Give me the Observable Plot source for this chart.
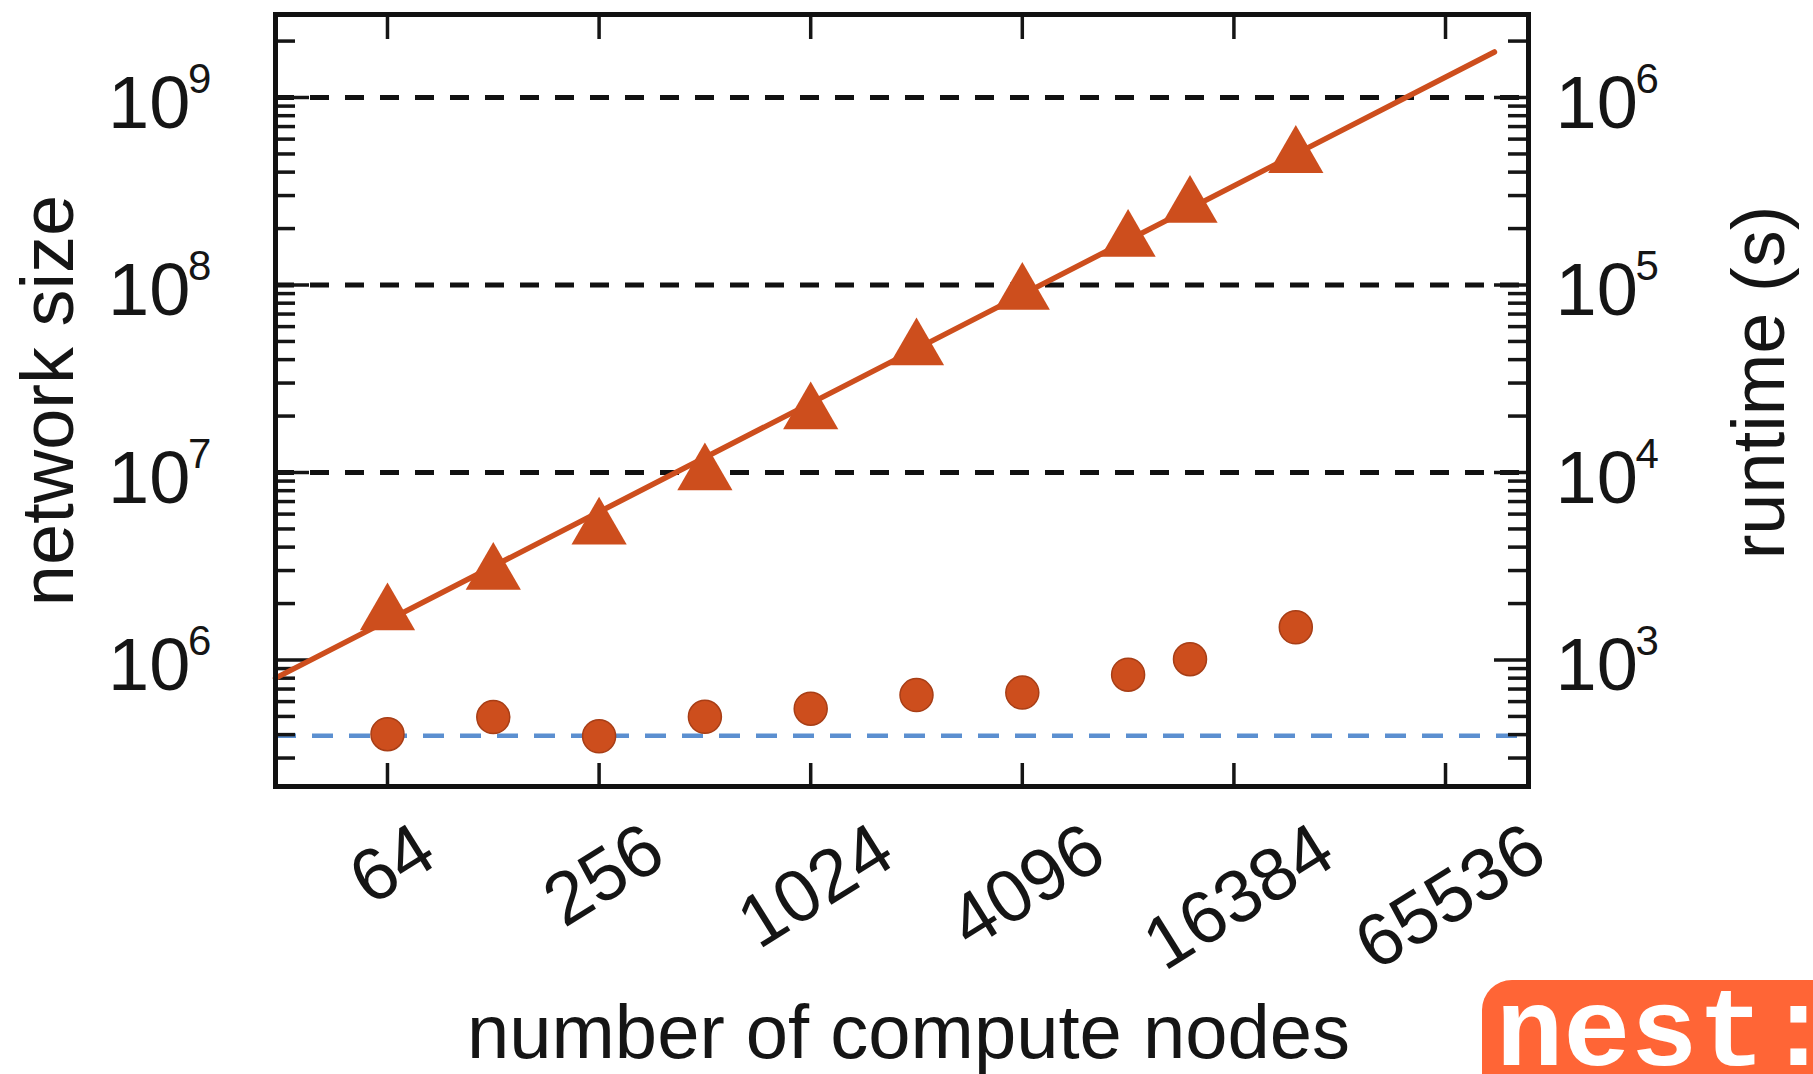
<!DOCTYPE html>
<html>
<head>
<meta charset="utf-8">
<script src="https://cdn.jsdelivr.net/npm/d3@7"></script>
<script src="https://cdn.jsdelivr.net/npm/@observablehq/plot@0.6"></script>
<style>
  html, body { margin: 0; padding: 0; background: #fff; overflow: hidden; }
  #wrap { position: relative; width: 1813px; height: 1074px; overflow: hidden; }
  #chart svg { display: block; }
  #logo { position: absolute; left: 1482px; top: 980px; width: 331px; height: 94px;
          background: #FF6536; border-radius: 30px 0 0 0; overflow: hidden; }
  #logo span.t { position: absolute; left: 14px; top: 21px; font-family: "Liberation Mono", "DejaVu Sans Mono", monospace;
          font-weight: bold; font-size: 112px; line-height: 70px; color: #fff; white-space: nowrap; }
  #logo span.c { letter-spacing: -22px; }
</style>
</head>
<body>
<div id="wrap">
  <div id="chart"></div>
  <div id="logo"><span class="t">nest<span class="c">:</span></span></div>
</div>
<script>
// ---- data ----
const nodes = [64, 128, 256, 512, 1024, 2048, 4096, 8192, 12288, 24576];
const networkSize = [1.75e6, 2.88e6, 5.02e6, 9.77e6, 2.07e7, 4.54e7, 8.97e7, 1.72e8, 2.61e8, 4.82e8];
const runtime = [402, 496, 392, 498, 550, 650, 670, 835, 1010, 1495];
const fitNodes = [30.73, 90300];
const fitSize = [8.0e5, 1.75e9];
const referenceRuntime = 395;
const sizeGridLines = [1e7, 1e8, 1e9];
const xTicks = [64, 256, 1024, 4096, 16384, 65536];
const sizeTicks = [1e6, 1e7, 1e8, 1e9];
const runtimeTicks = [1e3, 1e4, 1e5, 1e6];
const runtimeToSize = 1000; // right axis value x 1000 = left axis value
const xDomain = [30.73, 112870];
const yDomain = [2.115e5, 2.772e9];

// ---- layout ----
const W = 1813, H = 1074;
const mL = 275, mR = 285, mT = 14, mB = 288;
const plotW = W - mL - mR;
const plotH = H - mT - mB;
const orange = "#CD4E1D";
const ink = "#151515";
const font = "'Liberation Sans', Arial, Helvetica, sans-serif";

const rows = nodes.map((n, i) => ({n, size: networkSize[i], rt: runtime[i]}));
const fit = fitNodes.map((n, i) => ({n, size: fitSize[i]}));

const minorTicks = [];
for (let e = 5; e <= 9; e++) for (let k = 2; k <= 9; k++) {
  const v = k * 10 ** e;
  if (v > yDomain[0] && v < yDomain[1]) minorTicks.push(v);
}

const fs = 74, theta = 32, rad = theta * Math.PI / 180;
const xLabelMarks = xTicks.map(t => {
  const s = String(t);
  const L = s.length * 0.556 * fs;
  const bh = L * Math.sin(rad) + 0.716 * fs * Math.cos(rad);
  return Plot.text([t], {x: d => d, text: d => String(d), frameAnchor: "bottom",
    textAnchor: "middle", lineAnchor: "middle", rotate: -theta, fontSize: fs,
    dx: 5, dy: 34 + bh / 2, fill: ink});
});

const chart = Plot.plot({
  width: W, height: H,
  marginLeft: mL, marginRight: mR, marginTop: mT, marginBottom: mB,
  style: {fontFamily: font, background: "#fff", color: ink},
  x: {type: "log", domain: xDomain, axis: null},
  y: {type: "log", domain: yDomain, axis: null},
  marks: [
    // grid dashed lines
    Plot.ruleY(sizeGridLines, {stroke: "#111", strokeWidth: 5, strokeDasharray: "19,16"}),
    Plot.ruleY([referenceRuntime], {y: d => d * runtimeToSize, stroke: "#5B8FD0", strokeWidth: 4.5, strokeDasharray: "21,16"}),
    // inner ticks, left & right
    Plot.ruleY(minorTicks, {insetRight: plotW - 20, stroke: ink, strokeWidth: 3.5}),
    Plot.ruleY(sizeTicks, {insetRight: plotW - 34, stroke: ink, strokeWidth: 3.5}),
    Plot.ruleY(minorTicks, {insetLeft: plotW - 20, stroke: ink, strokeWidth: 3.5}),
    Plot.ruleY(runtimeTicks, {y: d => d * runtimeToSize, insetLeft: plotW - 34, stroke: ink, strokeWidth: 3.5}),
    // x ticks top & bottom
    Plot.ruleX(xTicks, {insetBottom: plotH - 25, stroke: ink, strokeWidth: 3.5}),
    Plot.ruleX(xTicks, {insetTop: plotH - 23, stroke: ink, strokeWidth: 3.5}),
    // fit line
    Plot.line(fit, {x: "n", y: "size", stroke: orange, strokeWidth: 5.5}),
    // data
    Plot.dot(rows, {x: "n", y: "size", symbol: "triangle", r: 20.5, fill: orange}),
    Plot.dot(rows, {x: "n", y: d => d.rt * runtimeToSize, r: 16.5, fill: orange, stroke: "#A83E16", strokeWidth: 1.5}),
    Plot.frame({stroke: "#111", strokeWidth: 5}),
    // left tick labels
    Plot.text(sizeTicks, {y: d => d, text: () => "10", frameAnchor: "left", textAnchor: "start",
      lineAnchor: "bottom", dx: -167.5, dy: 30, fontSize: fs, fill: ink}),
    Plot.text(sizeTicks, {y: d => d, text: d => String(Math.round(Math.log10(d))), frameAnchor: "left",
      textAnchor: "start", lineAnchor: "bottom", dx: -87.5, dy: -5, fontSize: 42, fill: ink}),
    // right tick labels
    Plot.text(runtimeTicks, {y: d => d * runtimeToSize, text: () => "10", frameAnchor: "right", textAnchor: "start",
      lineAnchor: "bottom", dx: 27, dy: 30, fontSize: fs, fill: ink}),
    Plot.text(runtimeTicks, {y: d => d * runtimeToSize, text: d => String(Math.round(Math.log10(d))), frameAnchor: "right",
      textAnchor: "start", lineAnchor: "bottom", dx: 107, dy: -5, fontSize: 42, fill: ink}),
    // x tick labels
    ...xLabelMarks,
    // axis titles
    Plot.text(["network size"], {text: d => d, frameAnchor: "left", rotate: -90, textAnchor: "middle",
      lineAnchor: "bottom", dx: -203, dy: 0, fontSize: fs, fill: ink}),
    Plot.text(["runtime (s)"], {text: d => d, frameAnchor: "right", rotate: -90, textAnchor: "middle",
      lineAnchor: "bottom", dx: 255, dy: -18, fontSize: fs, fill: ink}),
    Plot.text(["number of compute nodes"], {text: d => d, frameAnchor: "bottom", textAnchor: "middle",
      lineAnchor: "bottom", dx: 6.5, dy: 271, fontSize: 76, fill: ink})
  ]
});
document.getElementById("chart").appendChild(chart);
</script>
</body>
</html>
